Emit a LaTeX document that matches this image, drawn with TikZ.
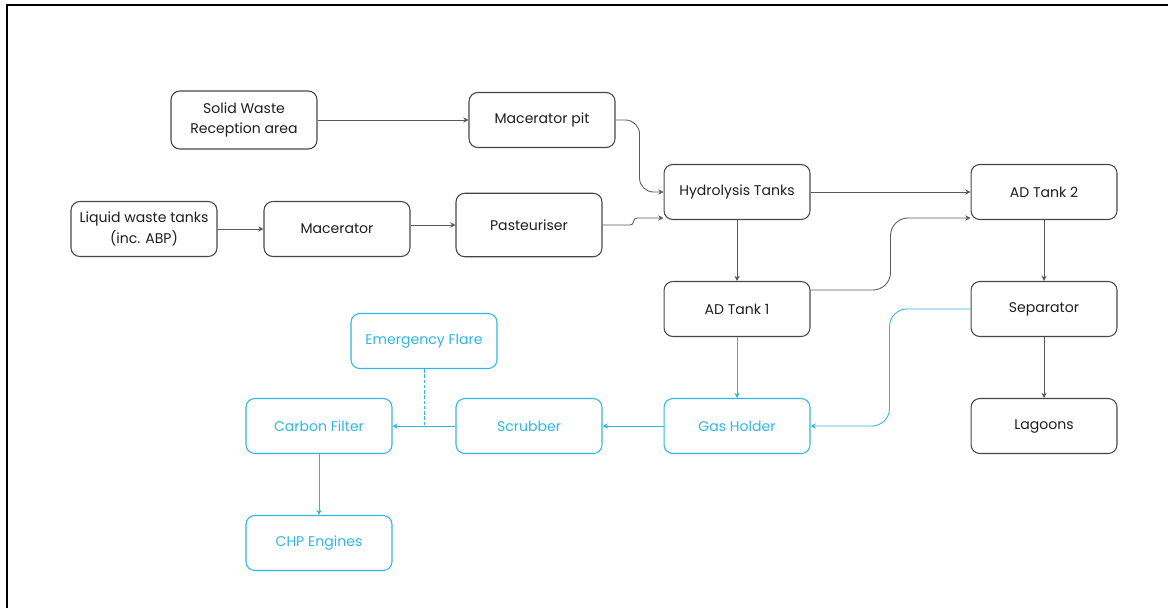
\documentclass[tikz,border=0pt]{standalone}
\usepackage{fontspec}
\setmainfont{Poppins}
\usetikzlibrary{arrows.meta, positioning, calc}
\definecolor{linegray}{RGB}{90,90,90}
\definecolor{boxgray}{RGB}{70,70,70}
\definecolor{gasblue}{RGB}{48,182,230}
\definecolor{txtdark}{RGB}{30,30,30}

\begin{document}
\begin{tikzpicture}[x=0.02cm, y=-0.02cm,
    box/.style={rectangle, rounded corners=5pt, draw=boxgray, line width=0.6pt,
                minimum width=2.92cm, minimum height=1.1cm, align=center,
                font=\fontsize{8}{11.5}\selectfont, text=txtdark},
    gasbox/.style={box, draw=gasblue, text=gasblue},
    flow/.style={-{Stealth[length=3pt, width=3pt]}, draw=linegray, line width=0.5pt},
    gasflow/.style={flow, draw=gasblue}]

    \useasboundingbox (0,0) rectangle (1168,608);
    % Frame
    \draw[line width=1.4pt] (7,608) -- (7,5) -- (1168,5);

    % Process
    \node[box, minimum height=1.16cm] (solid) at (244,120) {Solid Waste\\Reception area};
    \node[box] (pit) at (542,120) {Macerator pit};
    \node[box] (hydro) at (737,192) {Hydrolysis Tanks};
    \node[box] (adtwo) at (1044,192) {AD Tank 2};
    \node[box] (liquid) at (144,229) {Liquid waste tanks\\(inc. ABP)};
    \node[box] (macer) at (337,229) {Macerator};
    \node[box, minimum height=1.27cm] (past) at (529,225) {Pasteuriser};
    \node[box] (adone) at (737,309) {AD Tank 1};
    \node[box] (sep) at (1044,309) {Separator};
    \node[box] (lagoon) at (1044,426) {Lagoons};

    % Gas line
    \node[gasbox] (flare) at (424,341) {Emergency Flare};
    \node[gasbox] (carbon) at (319,426) {Carbon Filter};
    \node[gasbox] (scrub) at (529,426) {Scrubber};
    \node[gasbox] (gas) at (737,426) {Gas Holder};
    \node[gasbox] (chp) at (319,543) {CHP Engines};

    % Arrows
    \draw[flow] (solid) -- (pit);
    \draw[flow, rounded corners=8pt] (pit.east) -- ++(24,0) |- (hydro.west);
    \draw[flow] (liquid) -- (macer);
    \draw[flow] (past.west -| macer.east) -- (past.west);
    \draw[flow, rounded corners=2pt] (past.east) -- ++(31,0) |- ($(hydro.west)+(0,26)$);
    \draw[flow] (hydro) -- (adtwo);
    \draw[flow] (hydro) -- (adone);
    \draw[flow, rounded corners=10pt] ($(adone.east)+(0,-19)$) -- ++(80,0) |- ($(adtwo.west)+(0,26)$);
    \draw[flow] (adtwo) -- (sep);
    \draw[flow] (sep) -- (lagoon);

    \draw[gasflow] (adone) -- (gas);
    \draw[gasflow, rounded corners=10pt] (sep.west) -- ++(-81,0) |- (gas.east);
    \draw[gasflow] (gas) -- (scrub);
    \draw[gasflow] (scrub) -- (carbon);
    \draw[gasblue, dash pattern=on 2pt off 1pt, line width=0.5pt] (flare.south) -- (flare.south |- scrub.west);
    \draw[gasflow] (carbon) -- (chp);
\end{tikzpicture}
\end{document}
